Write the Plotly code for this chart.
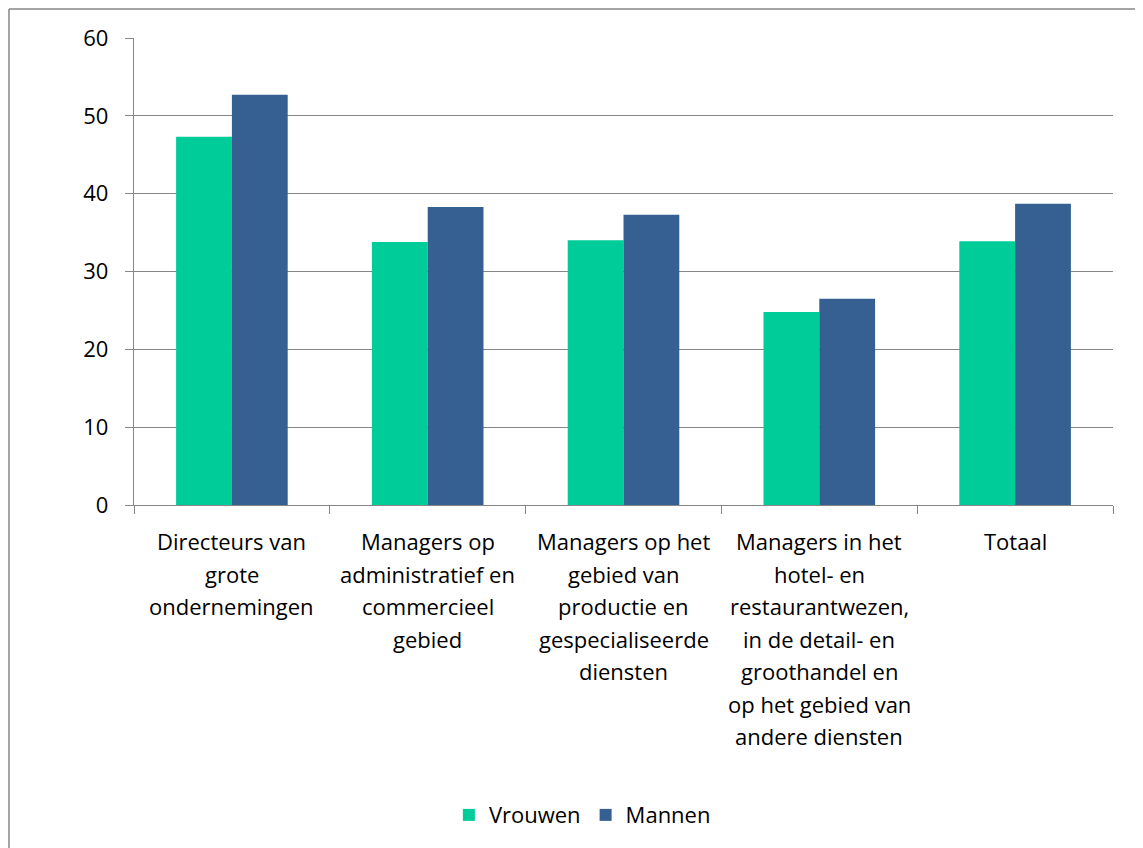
import plotly.graph_objects as go

categories = [
    "Directeurs van<br>grote<br>ondernemingen",
    "Managers op<br>administratief en<br>commercieel<br>gebied",
    "Managers op het<br>gebied van<br>productie en<br>gespecialiseerde<br>diensten",
    "Managers in het<br>hotel- en<br>restaurantwezen,<br>in de detail- en<br>groothandel en<br>op het gebied van<br>andere diensten",
    "Totaal",
]
vrouwen = [47.3, 33.8, 34.0, 24.8, 33.9]
mannen = [52.7, 38.3, 37.3, 26.5, 38.7]
y_ticks = [0, 10, 20, 30, 40, 50, 60]

FONT = "Open Sans"
FS = 22
GRID = "#868686"

fig = go.Figure()
fig.add_trace(go.Bar(x=categories, y=vrouwen, name="Vrouwen",
                     marker=dict(color="#00CC99", line=dict(width=0))))
fig.add_trace(go.Bar(x=categories, y=mannen, name="Mannen",
                     marker=dict(color="#366092", line=dict(width=0))))

# category labels, one annotation per line (Excel-like line spacing)
annotations = []
for cat in categories:
    for i, line in enumerate(cat.split("<br>")):
        annotations.append(dict(
            x=cat, xref="x", y=0, yref="paper", yanchor="middle",
            text=line, showarrow=False, yshift=-36 - 32.5 * i,
            font=dict(family=FONT, size=FS, color="black"),
        ))

fig.update_layout(
    width=1135, height=840,
    margin=dict(l=126, r=30, t=30, b=343),
    paper_bgcolor="white", plot_bgcolor="white",
    font=dict(family=FONT, size=FS, color="black"),
    barmode="group", bargap=0.43, bargroupgap=0,
    showlegend=True,
    legend=dict(orientation="h", x=0.458, xanchor="center", y=-0.664, yanchor="middle",
                font=dict(family=FONT, size=FS, color="black"), itemsizing="constant"),
    annotations=annotations,
    shapes=[
        dict(type="line", xref="paper", yref="paper", x0=-0.1277, x1=1.05, y0=1.062, y1=1.062,
             line=dict(color=GRID, width=1.5)),
        dict(type="line", xref="paper", yref="paper", x0=-0.1277, x1=-0.1277, y0=1.062, y1=-0.75,
             line=dict(color=GRID, width=1.5)),
    ],
)
fig.update_xaxes(showticklabels=False, ticks="outside", tickson="boundaries", ticklen=8,
                 tickcolor=GRID, showline=True, linecolor=GRID, linewidth=1.3,
                 showgrid=False, zeroline=False)
fig.update_yaxes(range=[0, 60], tickvals=y_ticks, ticks="outside", ticklen=8, tickcolor=GRID,
                 showline=True, linecolor=GRID, linewidth=1.3, showgrid=True, gridcolor=GRID,
                 gridwidth=1.3, zeroline=False, ticklabelstandoff=12,
                 tickfont=dict(family=FONT, size=FS, color="black"))

fig.write_html("out.html")
